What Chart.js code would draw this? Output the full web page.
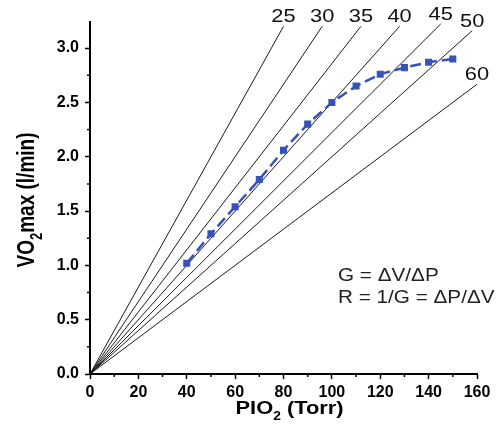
<!DOCTYPE html>
<html><head><meta charset="utf-8">
<script src="https://cdn.jsdelivr.net/npm/chart.js@4/dist/chart.umd.min.js"></script>
<style>html,body{margin:0;padding:0;background:#fff}</style>
</head><body>
<canvas id="c" width="501" height="430"></canvas>
<script>
// ---- data ----
const pio2 = [40, 50, 60, 70, 80, 90, 100, 110, 120, 130, 140, 150];
const vo2max = [1.02, 1.29, 1.54, 1.79, 2.06, 2.30, 2.50, 2.65, 2.76, 2.82, 2.87, 2.90];
const resistances = [25, 30, 35, 40, 45, 50, 60];      // R = ΔP/ΔV of each iso-line
const lineEndPio2 = [80, 96, 112, 128, 145, 158, 160];  // where each iso-line stops
const xTickValues = [0, 20, 40, 60, 80, 100, 120, 140, 160];
const yTickValues = [0, 0.5, 1.0, 1.5, 2.0, 2.5, 3.0];
const xMinorTicks = [10, 30, 50, 70, 90, 110, 130, 150];
const yMinorTicks = [0.25, 0.75, 1.25, 1.75, 2.25, 2.75];
const equations = ['G = \u0394V/\u0394P', 'R = 1/G = \u0394P/\u0394V'];

const FONT = '"Liberation Sans", Arial, sans-serif';
const STRETCH = 1.15;

const datasets = [];
datasets.push({
  label: 'VO2max',
  data: pio2.map((p, i) => ({ x: p, y: vo2max[i] })),
  showLine: true,
  borderColor: '#3553b8',
  backgroundColor: '#3553b8',
  borderWidth: 2.5,
  borderDash: [11, 5],
  pointStyle: 'rect',
  pointRadius: 3.2,
  order: 0
});
resistances.forEach((r, i) => {
  const e = lineEndPio2[i];
  datasets.push({
    label: 'R' + r,
    data: [{ x: 0, y: 0 }, { x: e, y: e / r }],
    showLine: true,
    borderColor: '#1a1a1a',
    borderWidth: 1,
    pointRadius: 0,
    clip: false,
    order: 1
  });
});

function stretchedText(ctx, txt, x, y, sx) {
  ctx.save();
  ctx.translate(x, y);
  ctx.scale(sx, 1);
  ctx.fillText(txt, 0, 0);
  ctx.restore();
}

const annotate = {
  id: 'annotate',
  afterDraw(chart) {
    const ctx = chart.ctx;
    const xs = chart.scales.x, ys = chart.scales.y;
    const ca = chart.chartArea;
    ctx.save();
    // minor ticks
    ctx.strokeStyle = '#000';
    ctx.lineWidth = 1.5;
    ctx.beginPath();
    xMinorTicks.forEach(v => {
      const px = xs.getPixelForValue(v);
      ctx.moveTo(px, ca.bottom); ctx.lineTo(px, ca.bottom + 3);
    });
    yMinorTicks.forEach(v => {
      const py = ys.getPixelForValue(v);
      ctx.moveTo(ca.left, py); ctx.lineTo(ca.left - 3, py);
    });
    ctx.stroke();

    // iso-line labels
    ctx.fillStyle = '#111';
    ctx.font = '19px ' + FONT;
    ctx.textBaseline = 'alphabetic';
    resistances.forEach((r, i) => {
      const e = lineEndPio2[i];
      const px = xs.getPixelForValue(e);
      const py = ys.getPixelForValue(e / r);
      const w = ctx.measureText(String(r)).width * STRETCH;
      stretchedText(ctx, String(r), px - w / 2, py - 4, STRETCH);
    });

    // equations
    ctx.font = '18px ' + FONT;
    ctx.fillStyle = '#222';
    stretchedText(ctx, equations[0], 338, 281, STRETCH);
    stretchedText(ctx, equations[1], 338, 303, STRETCH);

    // x axis title: PIO2 (Torr)
    ctx.fillStyle = '#000';
    const big = 'bold 19px ' + FONT, small = 'bold 12px ' + FONT;
    const partsX = [['PIO', big, 0], ['2', small, 6], [' (Torr)', big, 0]];
    let tw = 0;
    partsX.forEach(p => { ctx.font = p[1]; tw += ctx.measureText(p[0]).width; });
    let cx = (ca.left + ca.right) / 2 + 6 - tw * STRETCH / 2;
    partsX.forEach(p => {
      ctx.font = p[1];
      stretchedText(ctx, p[0], cx, 414 + p[2], STRETCH);
      cx += ctx.measureText(p[0]).width * STRETCH;
    });

    // y axis title: VO2max (l/min)
    const bigY = 'bold 19px ' + FONT, smallY = 'bold 13px ' + FONT;
    const partsY = [['VO', bigY, 0], ['2', smallY, 6], ['max (l/min)', bigY, 0]];
    tw = 0;
    partsY.forEach(p => { ctx.font = p[1]; tw += ctx.measureText(p[0]).width; });
    ctx.save();
    ctx.translate(34, (ca.top + ca.bottom) / 2 + 2);
    ctx.rotate(-Math.PI / 2);
    ctx.scale(1, 1.3);
    let cy = -tw / 2;
    partsY.forEach(p => {
      ctx.font = p[1];
      ctx.fillText(p[0], cy, p[2]);
      cy += ctx.measureText(p[0]).width;
    });
    ctx.restore();
    ctx.restore();
  }
};

new Chart(document.getElementById('c'), {
  type: 'scatter',
  data: { datasets },
  options: {
    responsive: false,
    animation: false,
    layout: { padding: { left: 0, top: 22, right: 24, bottom: 0 } },
    plugins: { legend: { display: false }, tooltip: { enabled: false } },
    scales: {
      x: {
        type: 'linear', min: 0, max: 160,
        afterBuildTicks: s => { s.ticks = xTickValues.map(v => ({ value: v })); },
        afterFit: s => { s.height = 56; },
        border: { display: true, color: '#000', width: 2 },
        grid: { drawOnChartArea: false, drawTicks: true, tickLength: 5, tickWidth: 1.5, tickColor: '#000' },
        ticks: { color: '#000', padding: 4, font: { family: FONT, size: 16, weight: 'bold' }, maxRotation: 0 }
      },
      y: {
        type: 'linear', min: 0, max: 3.24,
        afterBuildTicks: s => { s.ticks = yTickValues.map(v => ({ value: v })); },
        afterFit: s => { s.width = 90; },
        border: { display: true, color: '#000', width: 2 },
        grid: { drawOnChartArea: false, drawTicks: true, tickLength: 5, tickWidth: 1.5, tickColor: '#000' },
        ticks: { color: '#000', padding: 6, font: { family: FONT, size: 16, weight: 'bold' },
                 callback: v => Number(v).toFixed(1) }
      }
    }
  },
  plugins: [annotate]
});
</script>
</body></html>
